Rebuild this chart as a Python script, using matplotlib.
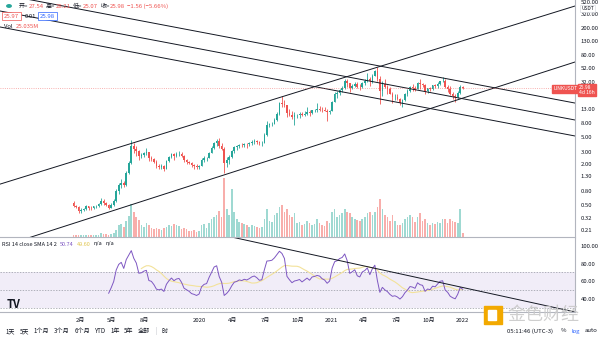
import numpy as np
import matplotlib
matplotlib.use('Agg')
import matplotlib.pyplot as plt
import matplotlib.dates as mdates
from matplotlib.patches import Rectangle

plt.rcParams['font.family'] = ['Noto Sans CJK SC', 'DejaVu Sans']

# weekly LINKUSDT candles, first week starts 2019-01-14
first_week = '2019-01-14'
first_open = 0.52

closes = [
    # 2019
    .48, .46, .40, .42, .43, .47, .45, .44, .47, .48, .51, .56, .52, .49, .45, .50, .57, .78, .96, 1.05,
    .98, 1.48, 2.05, 3.60, 3.30, 3.10, 2.60, 2.65, 2.85, 2.95, 2.40, 2.35, 2.15, 1.85, 1.80, 1.85, 1.70,
    2.20, 2.50, 2.75, 2.60, 2.75, 2.80, 2.60, 2.25, 2.15, 2.05, 1.90, 1.85, 1.78, 1.85,
    # 2020
    2.25, 2.40, 2.45, 2.90, 3.40, 4.10, 4.30, 3.70, 3.30, 2.05, 2.25, 2.55, 3.05, 3.50, 3.60, 3.80, 3.75,
    3.90, 3.85, 4.00, 4.20, 4.30, 4.20, 4.05, 4.10, 5.30, 7.50, 7.60, 7.80, 8.80, 11.00, 15.50, 15.20,
    14.50, 11.30, 10.50, 9.80, 10.40, 10.60, 10.90, 10.40, 11.00, 11.60, 11.20, 12.20, 12.40, 12.70,
    12.60, 12.20, 12.00, 11.50, 12.00,
    # 2021 - 2022
    16.50, 21.00, 22.00, 24.50, 26.00, 33.00, 31.00, 26.50, 28.00, 30.00, 27.50, 27.00, 31.50, 33.00,
    36.00, 33.00, 40.00, 46.00, 36.00, 24.00, 30.00, 27.00, 25.00, 21.50, 19.00, 19.50, 18.00, 15.50,
    17.50, 21.00, 23.50, 27.00, 26.50, 25.50, 31.00, 29.50, 29.00, 24.00, 26.00, 25.50, 28.50, 28.00,
    30.50, 33.00, 33.50, 27.00, 25.00, 21.50, 20.00, 19.00, 22.00, 27.54, 25.98,
]
highs = [
    .56, .50, .47, .44, .45, .50, .48, .47, .48, .50, .52, .62, .60, .55, .51, .52, .60, .85, 1.05, 1.20,
    1.12, 1.55, 2.20, 4.50, 4.00, 3.70, 3.20, 2.90, 3.00, 3.40, 3.00, 2.60, 2.45, 2.30, 2.00, 1.95, 1.90,
    2.25, 2.60, 2.85, 2.90, 3.00, 3.05, 2.95, 2.65, 2.35, 2.20, 2.10, 2.00, 1.95, 1.90,
    2.40, 2.60, 2.55, 3.00, 3.60, 4.20, 4.60, 4.80, 4.00, 3.50, 2.50, 2.70, 3.20, 3.70, 3.80, 3.90, 4.00,
    4.10, 4.10, 4.20, 4.50, 4.60, 4.55, 4.40, 4.30, 5.60, 8.50, 8.00, 8.20, 9.50, 11.50, 16.50, 20.00,
    17.50, 14.80, 13.00, 12.00, 11.50, 11.00, 11.50, 11.40, 11.80, 13.50, 12.30, 12.50, 13.00, 15.50,
    14.00, 13.80, 13.60, 12.80, 12.50,
    17.00, 23.00, 23.50, 25.00, 28.00, 36.00, 35.50, 31.50, 30.00, 32.00, 32.50, 30.00, 32.00, 35.00,
    44.00, 38.00, 42.00, 48.00, 53.00, 40.00, 33.00, 35.00, 29.00, 27.50, 23.00, 21.50, 21.00, 18.50,
    18.00, 22.00, 25.00, 28.00, 30.00, 28.00, 32.00, 36.00, 31.00, 29.50, 26.50, 27.00, 29.00, 30.00,
    32.00, 33.50, 38.00, 35.00, 28.50, 28.00, 23.00, 21.00, 23.50, 28.50, 28.21,
]
lows = [
    .46, .44, .38, .38, .40, .42, .42, .42, .43, .45, .46, .49, .50, .47, .43, .44, .48, .55, .72, .88,
    .90, .95, 1.40, 2.00, 2.90, 2.60, 2.30, 2.40, 2.50, 2.70, 2.20, 2.20, 2.05, 1.75, 1.70, 1.70, 1.55,
    1.68, 2.10, 2.40, 2.30, 2.50, 2.60, 2.50, 2.15, 1.95, 1.95, 1.80, 1.70, 1.70, 1.65,
    1.82, 2.15, 2.20, 2.40, 2.85, 3.30, 3.60, 3.40, 3.20, 1.45, 1.80, 2.00, 2.40, 2.90, 3.20, 3.40, 3.50,
    3.50, 3.40, 3.70, 3.80, 3.90, 3.90, 3.80, 3.70, 4.00, 5.20, 7.00, 7.20, 7.60, 8.50, 10.50, 13.50,
    13.50, 9.80, 10.00, 9.00, 7.50, 9.50, 9.50, 10.00, 10.20, 10.40, 10.00, 10.80, 11.60, 11.50, 12.00,
    11.50, 11.80, 8.50, 11.00,
    11.80, 16.00, 18.50, 20.50, 23.00, 25.00, 27.00, 23.00, 25.00, 27.00, 26.00, 24.50, 26.50, 28.50,
    32.00, 28.00, 31.00, 39.00, 33.00, 15.00, 20.00, 26.00, 21.50, 21.00, 15.50, 17.50, 17.50, 14.50,
    13.50, 17.00, 20.00, 23.00, 24.00, 24.00, 25.00, 25.00, 27.00, 21.50, 22.00, 24.00, 24.50, 26.50,
    26.00, 29.00, 32.00, 26.00, 23.00, 20.50, 18.00, 16.50, 18.50, 21.50, 25.07,
]
# weekly volume, millions of LINK
volumes = [
    10, 12, 14, 12, 11, 15, 12, 11, 12, 11, 14, 22, 18, 16, 15, 16, 24, 45, 70, 80, 60, 95, 130, 200,
    150, 120, 105, 75, 60, 85, 75, 55, 50, 55, 48, 42, 55, 60, 72, 65, 78, 72, 66, 48, 55, 48, 36, 36,
    42, 30, 36,
    72, 78, 54, 84, 108, 120, 132, 156, 120, 360, 168, 132, 294, 150, 108, 90, 84, 78, 72, 60, 72, 66,
    60, 54, 60, 108, 168, 96, 90, 132, 144, 180, 192, 150, 168, 132, 120, 144, 84, 90, 72, 78, 96, 84,
    72, 78, 108, 84, 72, 66, 96, 84,
    150, 168, 120, 132, 144, 168, 150, 144, 120, 108, 102, 96, 108, 120, 144, 150, 132, 150, 180, 228,
    168, 132, 120, 96, 132, 96, 72, 72, 84, 108, 120, 132, 120, 90, 120, 144, 96, 108, 84, 72, 84, 78,
    90, 84, 108, 108, 84, 108, 96, 90, 84, 170, 25,
]

price_ticks = [520, 320, 200, 130, 80, 52, 32, 13, 8, 5, 3, 2, 1.3, 0.8, 0.5, 0.32, 0.21]
rsi_ticks = [100, 80, 60, 40]
month_ticks = ['2019-02-01', '2019-05-01', '2019-08-01', '2020-01-01', '2020-04-01', '2020-07-01',
               '2020-10-01', '2021-01-01', '2021-04-01', '2021-07-01', '2021-10-01', '2022-01-01',
               '2022-04-01']
month_labels = ['2月', '5月', '8月', '2020', '4月', '7月', '10月', '2021', '4月', '7月', '10月', '2022', '4月']
range_buttons = ['1天', '5天', '1个月', '3个月', '6个月', 'YTD', '1年', '5年', '全部']

# trend lines drawn on the chart: (date, price) pairs
trend_lines = [
    (('2018-06-23', 1.0), ('2022-11-12', 424.0)),
    (('2018-06-23', 0.118), ('2022-11-12', 63.3)),
    (('2018-06-23', 637.0), ('2022-11-12', 15.7)),
    (('2018-06-23', 358.0), ('2022-11-12', 8.83)),
    (('2018-06-23', 208.0), ('2022-11-12', 5.13)),
]
rsi_line = (('2020-02-15', 114.0), ('2022-11-12', 25.0))

UP = '#26a69a'
DOWN = '#ef5350'
INK = '#131722'

closes = np.array(closes)
highs = np.array(highs)
lows = np.array(lows)
volumes = np.array(volumes)
opens = np.concatenate([[first_open], closes[:-1]])
n = len(closes)
dates = mdates.date2num(np.datetime64(first_week) + np.arange(n) * np.timedelta64(7, 'D'))
up = closes >= opens
colors = np.where(up, UP, DOWN)
vol_colors = np.where(up, '#9fd9d2', '#f8aeab')

# RSI 14 (Wilder) and its SMA 14
delta = np.diff(closes)
gain = np.clip(delta, 0, None)
loss = np.clip(-delta, 0, None)
rsi = np.full(n, np.nan)
ag, al = gain[:14].mean(), loss[:14].mean()
rsi[14] = 100 - 100 / (1 + ag / al)
for i in range(15, n):
    ag = (ag * 13 + gain[i - 1]) / 14
    al = (al * 13 + loss[i - 1]) / 14
    rsi[i] = 100 - 100 / (1 + ag / al)
rsi_sma = np.full(n, np.nan)
for i in range(27, n):
    rsi_sma[i] = rsi[i - 13:i + 1].mean()

xmin = mdates.date2num(np.datetime64('2018-06-23'))
xmax = mdates.date2num(np.datetime64('2022-11-12'))

fig = plt.figure(figsize=(6, 3.38), dpi=100)
W, H = 600, 338
renderer = fig.canvas.get_renderer()


def box(x0, y0, x1, y1):
    return [x0 / W, 1 - y1 / H, (x1 - x0) / W, (y1 - y0) / H]


def t(x, y, s, color=INK, size=4.3, **kw):
    return fig.text(x / W, 1 - y / H, s, color=color, fontsize=size, va='center', **kw)


def row(x, y, parts, gap=2.5, size=4.3, **kw):
    # place texts one after another, left to right
    for s, color in parts:
        txt = t(x, y, s, color, size, **kw)
        x = txt.get_window_extent(renderer).x1 + gap
    return x


ax = fig.add_axes(box(0, 0, 575, 237))
vax = ax.twinx()
ax.set_zorder(vax.get_zorder() + 1)
ax.patch.set_visible(False)

# volume
vax.bar(dates, volumes, width=4.5, color=vol_colors, linewidth=0)
vax.set_ylim(0, volumes.max() / 0.25)
vax.set_yticks([])
for s in vax.spines.values():
    s.set_visible(False)

# candles
ax.vlines(dates, lows, highs, color=colors, linewidth=0.6)
ax.bar(dates, np.abs(closes - opens), bottom=np.minimum(opens, closes), width=4.5,
       color=colors, linewidth=0)

for (d0, p0), (d1, p1) in trend_lines:
    ax.plot(mdates.date2num([np.datetime64(d0), np.datetime64(d1)]), [p0, p1],
            color=INK, linewidth=0.7)

ax.axhline(closes[-1], color=DOWN, linestyle=':', linewidth=0.6, alpha=0.6)

ax.set_yscale('log')
ax.set_ylim(0.166, 520)
ax.set_xlim(xmin, xmax)
ax.yaxis.tick_right()
ax.set_yticks(price_ticks)
ax.set_yticklabels(['%.2f' % p for p in price_ticks])
ax.yaxis.set_minor_locator(matplotlib.ticker.NullLocator())
ax.tick_params(axis='y', length=0, labelsize=4.3, colors=INK, pad=4)
ax.get_yticklabels()[0].set_va('top')
ax.set_xticks([])
for side in ['top', 'left']:
    ax.spines[side].set_visible(False)
for side in ['right', 'bottom']:
    ax.spines[side].set_color('#b2b5be')
    ax.spines[side].set_linewidth(0.8)

# RSI pane
rax = fig.add_axes(box(0, 238, 575, 312))
rax.axhspan(30, 70, color='#7e57c2', alpha=0.1, linewidth=0)
for lvl in [70, 50, 30]:
    rax.axhline(lvl, color='#9598a1', linestyle=(0, (2, 2)), linewidth=0.5)
rax.plot(dates, rsi_sma, color='#f3e29a', linewidth=0.8)
rax.plot(dates, rsi, color='#7e57c2', linewidth=0.7)
(d0, r0), (d1, r1) = rsi_line
rax.plot(mdates.date2num([np.datetime64(d0), np.datetime64(d1)]), [r0, r1],
         color=INK, linewidth=0.7)
rax.set_xlim(xmin, xmax)
rax.set_ylim(25, 109)
rax.yaxis.tick_right()
rax.set_yticks(rsi_ticks)
rax.set_yticklabels(['%.2f' % v for v in rsi_ticks])
rax.set_xticks(mdates.date2num(np.array(month_ticks, dtype='datetime64[D]')))
rax.set_xticklabels(month_labels)
rax.tick_params(axis='both', length=0, labelsize=4.3, colors=INK)
rax.tick_params(axis='y', pad=4)
rax.tick_params(axis='x', pad=4)
rax.spines['top'].set_visible(False)
rax.spines['left'].set_visible(False)
for side in ['right', 'bottom']:
    rax.spines[side].set_color('#b2b5be')
    rax.spines[side].set_linewidth(0.8)

# header, main pane
fig.patches.append(plt.Circle((9 / W, 1 - 6 / H), 2.2 / W, color=UP, transform=fig.transFigure))
x = row(19, 6, [('开=', INK), ('27.54', DOWN)], gap=0.3)
x = row(x + 2, 6, [('高=', INK), ('28.21', DOWN)], gap=0.3)
x = row(x + 2, 6, [('低=', INK), ('25.07', DOWN)], gap=0.3)
x = row(x + 2, 6, [('收=', INK), ('25.98', DOWN)], gap=0.3)
row(x + 2, 6, [('−1.56 (−5.66%)', DOWN)])
t(4, 16, '25.97', DOWN, bbox=dict(boxstyle='square,pad=0.3', fc='white', ec=DOWN, lw=0.5))
t(25, 16, '0.01', INK)
t(40, 16, '25.98', '#2962ff', bbox=dict(boxstyle='square,pad=0.3', fc='white', ec='#2962ff', lw=0.5))
row(4, 27, [('Vol', INK), ('25.035M', DOWN)], gap=3)

# price axis labels
t(581, 8.5, 'USDT', INK, size=3.5,
  bbox=dict(boxstyle='square,pad=0.2', fc='white', ec='#d1d4dc', lw=0.4))
t(553, 89, 'LINKUSDT', 'white', size=3.6, bbox=dict(boxstyle='square,pad=0.25', fc=DOWN, ec=DOWN))
t(579, 90, '25.98\n4d 16h', 'white', size=3.6, linespacing=1.0,
  bbox=dict(boxstyle='square,pad=0.25', fc=DOWN, ec=DOWN))

# RSI header
row(2, 244, [('RSI 14 close SMA 14 2', INK), ('50.74', '#7e57c2'), ('49.60', '#e0c44a'),
             ('n/a', INK), ('n/a', INK)], gap=3, size=4.0)
t(7, 304, 'TV', INK, size=8, fontweight='bold')

# bottom toolbar
x = 6
for s in range_buttons:
    x = row(x, 331, [(s, INK)], gap=4.5, size=4.4)
t(x + 1, 331, '|', '#b2b5be', size=4.4)
t(x + 7, 331, '时', INK, size=4.4)
row(507, 331, [('05:11:46 (UTC-3)', INK)], size=4.3)
t(561, 331, '%', INK, size=4.3)
t(571, 331, 'log', '#2962ff', size=4.3)
t(585, 331, 'auto', INK, size=4.3)

# watermark
fig.patches.append(Rectangle((484 / W, 1 - 324 / H), 18 / W, 18 / H, color='#f2a900',
                             transform=fig.transFigure, zorder=10))
fig.patches.append(Rectangle((488 / W, 1 - 320 / H), 8 / W, 10 / H, color='white',
                             transform=fig.transFigure, zorder=11))
t(507, 315, '金色财经', '#c9c9c9', size=13, zorder=12, alpha=0.9)

fig.savefig('out.png', dpi=100, facecolor='white')
